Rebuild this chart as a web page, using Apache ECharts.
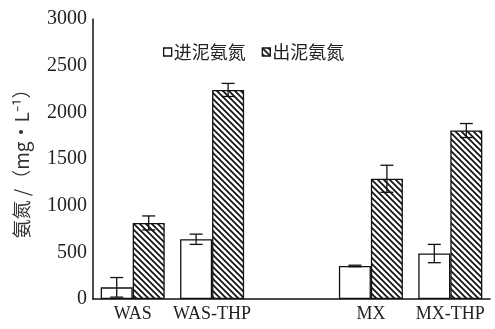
<!DOCTYPE html>
<html><head><meta charset="utf-8">
<script src="https://cdn.jsdelivr.net/npm/echarts@6/dist/echarts.min.js"></script>
<style>html,body{margin:0;padding:0;background:#fff}#c{width:495px;height:329px}</style>
</head><body><div id="c"></div>
<script>
const categories = ['WAS', 'WAS-THP', '', 'MX', 'MX-THP'];
const inflow = [125, 640, '-', 354, 487];
const inflowErr = [105, 55, '-', 8, 98];
const outflow = [815, 2240, '-', 1288, 1805];
const outflowErr = [75, 70, '-', 145, 75];
const yTicks = [0, 500, 1000, 1500, 2000, 2500, 3000];

function hatch() {
  const c = document.createElement('canvas');
  c.width = 6; c.height = 6;
  const g = c.getContext('2d');
  g.fillStyle = '#fff'; g.fillRect(0, 0, 6, 6);
  g.strokeStyle = '#111'; g.lineWidth = 1.7;
  g.beginPath();
  g.moveTo(-1, -1); g.lineTo(7, 7);
  g.moveTo(-4, 2); g.lineTo(4, 10);
  g.moveTo(2, -4); g.lineTo(10, 4);
  g.stroke();
  return c;
}
const pat = { image: hatch(), repeat: 'repeat' };
const BW = 32;

function errSeries(vals, errs, side) {
  const data = vals.map((v, i) => v === '-' ? null : [i, v, errs[i]]).filter(d => d);
  return {
    type: 'custom', silent: true, z: 10,
    data: data,
    encode: { x: 0, y: 1 },
    renderItem: function (params, api) {
      const i = api.value(0), v = api.value(1), e = api.value(2);
      const p = api.coord([i, v]);
      const x = p[0] + side * BW / 2;
      const yt = api.coord([i, v + e])[1];
      const yb = api.coord([i, v - e])[1];
      const w = 6.5;
      const st = { stroke: '#111', lineWidth: 1.3 };
      return { type: 'group', children: [
        { type: 'line', shape: { x1: x, y1: yt, x2: x, y2: yb }, style: st },
        { type: 'line', shape: { x1: x - w, y1: yt, x2: x + w, y2: yt }, style: st },
        { type: 'line', shape: { x1: x - w, y1: yb, x2: x + w, y2: yb }, style: st }
      ]};
    }
  };
}

const chart = echarts.init(document.getElementById('c'));
chart.setOption({
  animation: false,
  backgroundColor: '#fff',
  grid: { left: 93, right: 5, top: 19, bottom: 30 },
  legend: {
    left: 158, top: 38, itemWidth: 8, itemHeight: 8, itemGap: 16, icon: 'rect',
    textStyle: { fontFamily: 'Noto Sans CJK SC', fontSize: 18, color: '#222', padding: [0, 0, 0, -3] },
    data: [
      { name: '进泥氨氮', itemStyle: { color: '#fff', borderColor: '#111', borderWidth: 1.3 } },
      { name: '出泥氨氮', itemStyle: { color: pat, borderColor: '#111', borderWidth: 1.3 } }
    ]
  },
  xAxis: {
    type: 'category', data: categories,
    axisLine: { lineStyle: { color: '#111', width: 1.5 } },
    axisTick: { show: false },
    axisLabel: { fontFamily: 'Liberation Serif', fontSize: 18, color: '#222', margin: 6, interval: 0 }
  },
  yAxis: {
    type: 'value', min: 0, max: 3000, interval: 500,
    name: '氨氮 /（mg·L⁻¹）', nameLocation: 'middle', nameGap: 62, nameRotate: 90,
    nameTextStyle: { fontFamily: 'Noto Sans CJK SC', fontSize: 19, color: '#333' },
    axisLine: { show: true, lineStyle: { color: '#111', width: 1.5 } },
    axisTick: { show: false },
    splitLine: { show: false },
    axisLabel: { fontFamily: 'Liberation Serif', fontSize: 20, color: '#222', margin: 6,
      formatter: v => yTicks.indexOf(v) >= 0 ? String(v) : '' }
  },
  series: [
    { name: '进泥氨氮', type: 'bar', data: inflow, barWidth: BW, barGap: '0%',
      itemStyle: { color: '#fff', borderColor: '#111', borderWidth: 1.3 } },
    { name: '出泥氨氮', type: 'bar', data: outflow, barWidth: BW, barGap: '0%',
      itemStyle: { color: pat, borderColor: '#111', borderWidth: 1.3 } },
    errSeries(inflow, inflowErr, -1),
    errSeries(outflow, outflowErr, 1)
  ]
});
</script></body></html>
